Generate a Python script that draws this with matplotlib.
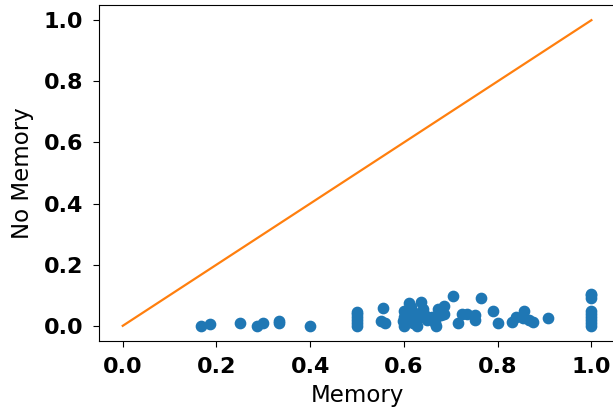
import matplotlib
matplotlib.use("Agg")
import matplotlib.pyplot as plt

memory = [0.167, 0.187, 0.25, 0.286, 0.30, 0.333, 0.333, 0.40,
          0.50, 0.50, 0.50, 0.50, 0.50, 0.50,
          0.55, 0.556, 0.56,
          0.598, 0.60, 0.60, 0.60, 0.605, 0.611, 0.611, 0.615, 0.62, 0.62, 0.625, 0.627,
          0.636, 0.636, 0.64, 0.648, 0.65, 0.66, 0.667, 0.667, 0.669, 0.673, 0.68, 0.686, 0.686,
          0.705, 0.715, 0.723, 0.735, 0.752, 0.752, 0.765,
          0.79, 0.80, 0.83, 0.84, 0.854, 0.857, 0.866, 0.876, 0.908,
          1.0, 1.0, 1.0, 1.0, 1.0, 1.0, 1.0, 1.0, 1.0]
no_memory = [0.0, 0.005, 0.01, 0.0, 0.01, 0.01, 0.017, 0.0,
             0.0, 0.01, 0.02, 0.03, 0.04, 0.045,
             0.015, 0.058, 0.01,
             0.017, 0.0, 0.03, 0.049, 0.04, 0.074, 0.02, 0.06, 0.01, 0.045, 0.03, 0.0,
             0.078, 0.03, 0.055, 0.033, 0.02, 0.03, 0.01, 0.02, 0.0, 0.055, 0.035, 0.065, 0.04,
             0.096, 0.008, 0.04, 0.04, 0.035, 0.02, 0.09,
             0.05, 0.01, 0.012, 0.03, 0.025, 0.05, 0.02, 0.012, 0.025,
             0.0, 0.01, 0.02, 0.03, 0.04, 0.05, 0.09, 0.1, 0.105]
diag = [0.0, 1.0]

fig = plt.figure(figsize=(6.13, 4.08), dpi=100)
ax = fig.add_axes([0.162, 0.164, 0.841, 0.824])
ax.scatter(memory, no_memory, s=55, color="#1f77b4", zorder=2)
ax.plot(diag, diag, color="#ff7f0e", lw=1.6, zorder=1)
ax.set_xlim(-0.05, 1.05)
ax.set_ylim(-0.05, 1.05)
ax.set_xticks([0.0, 0.2, 0.4, 0.6, 0.8, 1.0])
ax.set_yticks([0.0, 0.2, 0.4, 0.6, 0.8, 1.0])
ax.tick_params(axis="both", pad=7, length=4.5)
for lab in ax.get_xticklabels() + ax.get_yticklabels():
    lab.set_fontsize(16)
    lab.set_fontweight("bold")
ax.set_xlabel("Memory", fontsize=16.5, labelpad=5)
ax.set_ylabel("No Memory", fontsize=16.5, labelpad=7)
fig.savefig("out.png", dpi=100)
